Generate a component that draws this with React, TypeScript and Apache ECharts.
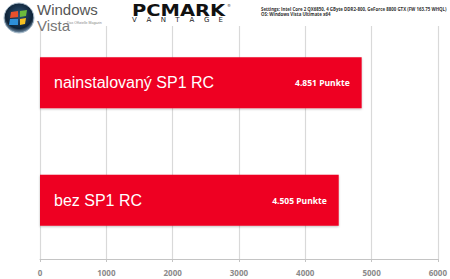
import React, { useEffect, useRef } from "react";
import * as echarts from "echarts";

const categories = ["bez SP1 RC", "nainstalovaný SP1 RC"];
const scores = [4505, 4851];
const unit = "Punkte";
const axisMin = 0;
const axisMax = 6000;
const axisStep = 1000;
const settingsLines = [
  "Settings: Intel Core 2 QX6850, 4 GByte DDR2-800, GeForce 8800 GTX (FW 163.75 WHQL)",
  "OS: Windows Vista Ultimate x64",
];

const fmt = (v: number) =>
  Math.floor(v / 1000) + "." + String(v % 1000).padStart(3, "0") + " " + unit;

export default function App() {
  const ref = useRef<HTMLDivElement>(null);
  useEffect(() => {
    if (!ref.current) return;
    const chart = echarts.init(ref.current, null, { renderer: "svg" });
    const vantage = "VANTAGE".split("");
    const option: any = {
      animation: false,
      backgroundColor: "#ffffff",
      grid: { left: 40, right: 11, top: 24, bottom: 20 },
      xAxis: {
        type: "value",
        min: axisMin,
        max: axisMax,
        interval: axisStep,
        axisLine: { show: true, lineStyle: { color: "#c4c4c4", width: 1 } },
        axisTick: { show: true, length: 3, lineStyle: { color: "#c4c4c4" } },
        splitLine: { show: true, lineStyle: { color: "#d9d9d9", width: 1.2 } },
        axisLabel: {
          color: "#8a8a8a",
          fontSize: 8,
          fontWeight: "bold",
          fontFamily: "Open Sans",
          margin: 9,
          formatter: (v: number) => String(v),
        },
      },
      yAxis: {
        type: "category",
        data: categories,
        axisLine: { show: false },
        axisTick: { show: false },
        axisLabel: { show: false },
        splitLine: { show: false },
      },
      series: [
        {
          type: "bar",
          data: scores,
          barWidth: 51,
          itemStyle: {
            color: "#ee0022",
            shadowColor: "rgba(0,0,0,0.25)",
            shadowBlur: 2,
            shadowOffsetY: 1,
          },
          label: {
            show: true,
            position: "insideLeft",
            distance: 14,
            formatter: (p: any) => p.name,
            color: "#ffffff",
            fontSize: 16,
            fontFamily: "Liberation Sans",
          },
          z: 2,
        },
        {
          type: "bar",
          data: scores,
          barWidth: 51,
          barGap: "-100%",
          itemStyle: { color: "rgba(0,0,0,0)" },
          label: {
            show: true,
            position: "insideRight",
            distance: 12,
            formatter: (p: any) => fmt(p.value),
            color: "#ffffff",
            fontSize: 8.5,
            fontWeight: "bold",
            fontFamily: "Open Sans",
          },
          z: 3,
        },
      ],
      graphic: [
        { type: "rect", z: 50, shape: { x: 0, y: 0, width: 450, height: 26 }, style: { fill: "#ffffff" } },
        {
          type: "circle",
          z: 60,
          shape: { cx: 19, cy: 18, r: 15 },
          style: {
            fill: new echarts.graphic.RadialGradient(0.5, 0.4, 0.6, [
              { offset: 0, color: "#2f5578" },
              { offset: 0.75, color: "#0e2236" },
              { offset: 1, color: "#7f9bb3" },
            ]),
            stroke: "#a9bccb",
            lineWidth: 1,
          },
        },
        { type: "polygon", z: 61, shape: { points: [[11, 12], [18, 11], [18, 17], [10, 18]] }, style: { fill: "#e8502c" } },
        { type: "polygon", z: 61, shape: { points: [[20, 11], [27, 10], [26, 16], [20, 17]] }, style: { fill: "#6cbb3c" } },
        { type: "polygon", z: 61, shape: { points: [[10, 19], [18, 19], [18, 25], [9, 25]] }, style: { fill: "#2d8fd8" } },
        { type: "polygon", z: 61, shape: { points: [[20, 19], [26, 18], [25, 24], [20, 25]] }, style: { fill: "#f6c021" } },
        {
          type: "text",
          z: 60,
          x: 37,
          y: 2,
          style: { text: "Windows", fontSize: 15, lineHeight: 15, fontFamily: "Liberation Sans", fill: "#555555" },
        },
        {
          type: "text",
          z: 60,
          x: 37,
          y: 18,
          style: { text: "Vista", fontSize: 15, lineHeight: 15, fontFamily: "Liberation Sans", fill: "#777777" },
        },
        {
          type: "text",
          z: 60,
          x: 67,
          y: 21,
          style: { text: "Das Offizielle Magazin", fontSize: 3.5, fontFamily: "Liberation Sans", fill: "#888888" },
        },
        {
          type: "text",
          z: 60,
          x: 132,
          y: 3,
          scaleX: 1.3,
          style: { text: "PCMARK", fontSize: 15, fontWeight: "bold", fontFamily: "DejaVu Sans", fill: "#111111" },
        },
        {
          type: "text",
          z: 60,
          x: 227,
          y: 3,
          style: { text: "®", fontSize: 4, fontFamily: "DejaVu Sans", fill: "#333333" },
        },
        ...vantage.map((ch, i) => ({
          type: "text",
          z: 60,
          x: 132 + i * 14.4,
          y: 16,
          style: { text: ch, fontSize: 7, fontFamily: "DejaVu Sans", fill: "#222222" },
        })),
        ...settingsLines.map((t, i) => ({
          type: "text",
          z: 60,
          x: 261,
          y: 7 + i * 5,
          style: { text: t, fontSize: 4.4, fontWeight: "bold", fontFamily: "Open Sans", fill: "#333333" },
        })),
      ],
    };
    chart.setOption(option);
    return () => chart.dispose();
  }, []);
  return (
    <div
      ref={ref}
      style={{ position: "fixed", left: 0, top: 0, width: 450, height: 279 }}
    />
  );
}
